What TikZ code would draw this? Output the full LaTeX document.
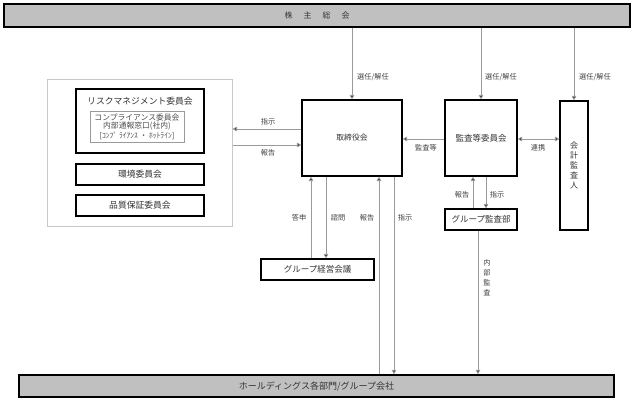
\documentclass[tikz,border=0pt]{standalone}
\usepackage{fontspec}
\setmainfont{Noto Sans CJK JP}
\usetikzlibrary{arrows.meta}
\definecolor{barfill}{HTML}{C0C0C0}
\definecolor{lncol}{HTML}{9A9A9A}
\definecolor{frame}{HTML}{C8C8C8}
\begin{document}
\begin{tikzpicture}[x=1pt,y=-1pt,
  bar/.style={draw=black,line width=1.4pt,fill=barfill,inner sep=0pt,text=black!80},
  bx/.style={draw=black,line width=1.1pt,fill=white,inner sep=0pt,text=black!80,font=\fontsize{8.5}{10}\selectfont},
  ln/.style={draw=lncol,line width=0.9pt},
  ar/.style={ln,-{Triangle[length=4.5pt,width=4.5pt,fill=black]}},
  ar2/.style={ln,{Triangle[length=4.5pt,width=4.5pt,fill=black]}-{Triangle[length=4.5pt,width=4.5pt,fill=black]}},
  lbl/.style={inner sep=0pt,font=\fontsize{7.2}{10}\selectfont,text=black!75},
  vlbl/.style={inner sep=0pt,align=center,font=\fontsize{7.2}{10}\selectfont,text=black!75}
]
\useasboundingbox (0,0) rectangle (633,402);

% bars
\node[bar,minimum width=626pt,minimum height=23pt] (top) at (317,15.5)
  {\fontsize{8}{10}\selectfont 株\hspace{11pt}主\hspace{11pt}総\hspace{11pt}会};
\node[bar,minimum width=595pt,minimum height=22pt] (bottom) at (316.5,386)
  {\fontsize{9}{10}\selectfont ホールディングス各部門/グループ会社};

% left group
\node[draw=frame,line width=1pt,minimum width=185pt,minimum height=147pt,inner sep=0pt] (left) at (139.5,152.5) {};
\node[bx,minimum width=128pt,minimum height=64pt] (risk) at (140,121) {};
\node[inner sep=0pt,font=\fontsize{8.8}{10}\selectfont,text=black!80] (risktxt) at (140,101) {リスクマネジメント委員会};
\node[draw=lncol,line width=0.6pt,minimum width=94pt,minimum height=31pt,inner sep=0pt] (comp) at (137,126.5) {};
\node[inner sep=0pt,font=\fontsize{7.8}{10}\selectfont,text=black!70] (c1) at (137,118) {コンプライアンス委員会};
\node[inner sep=0pt,font=\fontsize{7.8}{10}\selectfont,text=black!70] (c2) at (137,126) {内部通報窓口(社内)};
\node[inner sep=0pt,font=\fontsize{7.6}{10}\selectfont,text=black!70] (c3) at (137,135.5) {[ｺﾝﾌﾟ ﾗｲｱﾝｽ ・ ﾎｯﾄﾗｲﾝ]};
\node[bx,minimum width=128pt,minimum height=21pt,font=\fontsize{8.8}{10}\selectfont] (kankyo) at (140,174.5) {環境委員会};
\node[bx,minimum width=128pt,minimum height=21pt,font=\fontsize{8.8}{10}\selectfont] (hinshitsu) at (140,205.5) {品質保証委員会};

% main boxes
\node[bx,minimum width=100pt,minimum height=76pt,font=\fontsize{7.8}{10}\selectfont] (tori) at (352,138) {取締役会};
\node[bx,minimum width=72pt,minimum height=76pt] (kansa) at (481,138) {監査等委員会};
\node[bx,minimum width=28pt,minimum height=129pt,align=center,font=\fontsize{8}{10}\selectfont] (kaikei) at (574,165.5) {会\\計\\監\\査\\人};
\node[bx,minimum width=72pt,minimum height=21pt] (gkansa) at (481,219.5) {グループ監査部};
\node[bx,minimum width=113pt,minimum height=21pt] (gkeiei) at (317.5,269.5) {グループ経営会議};

% top connectors
\draw[ar] (top.south -| tori) -- (tori.north);
\draw[ar] (top.south -| kansa) -- (kansa.north);
\draw[ar] (top.south -| kaikei) -- (kaikei.north);
\node[lbl] (l1) at (373,77) {選任/解任};
\node[lbl] (l2) at (501,77) {選任/解任};
\node[lbl] (l3) at (595,77) {選任/解任};

% left connectors
\draw[ar] (tori.west |- 0,129) -- (left.east |- 0,129);
\draw[ar] (left.east |- 0,145) -- (tori.west |- 0,145);
\node[lbl] (l4) at (268,122) {指示};
\node[lbl] (l5) at (268,153) {報告};

% kansa - tori, kansa - kaikei
\draw[ar] (kansa.west |- 0,139) -- (tori.east |- 0,139);
\node[lbl] (l6) at (426,148) {監査等};
\draw[ar2] (kansa.east |- 0,139) -- (kaikei.west |- 0,139);
\node[lbl] (l7) at (538,148) {連携};

% kansa - gkansa
\draw[ar] (gkansa.north -| 473,0) -- (kansa.south -| 473,0);
\draw[ar] (kansa.south -| 486,0) -- (gkansa.north -| 486,0);
\node[lbl] (l8) at (462,195) {報告};
\node[lbl] (l9) at (497,195) {指示};

% tori - gkeiei
\draw[ar] (gkeiei.north -| 311,0) -- (tori.south -| 311,0);
\draw[ar] (tori.south -| 326,0) -- (gkeiei.north -| 326,0);
\node[lbl] (l10) at (299,218) {答申};
\node[lbl] (l11) at (338,218) {諮問};

% tori - bottom
\draw[ar] (bottom.north -| 379,0) -- (tori.south -| 379,0);
\draw[ar] (tori.south -| 394,0) -- (bottom.north -| 394,0);
\node[lbl] (l12) at (367,218) {報告};
\node[lbl] (l13) at (405,218) {指示};

% gkansa - bottom
\draw[ar] (gkansa.south -| 478,0) -- (bottom.north -| 478,0);
\node[vlbl] (l14) at (487,278) {内\\部\\監\\査};
\end{tikzpicture}
\end{document}
